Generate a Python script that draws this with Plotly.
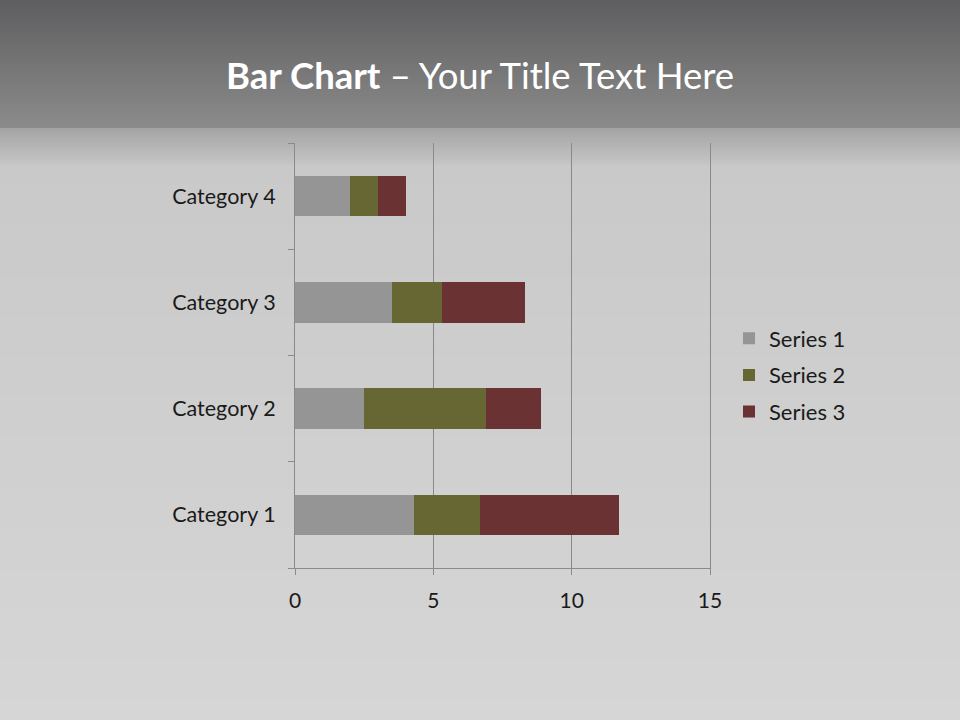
import plotly.graph_objects as go

categories = ["Category 1", "Category 2", "Category 3", "Category 4"]
series_names = ["Series 1", "Series 2", "Series 3"]
series1 = [4.3, 2.5, 3.5, 2.0]
series2 = [2.4, 4.4, 1.8, 1.0]
series3 = [5.0, 2.0, 3.0, 1.0]
colors = ["#959595", "#676734", "#6a3232"]
x_ticks = [0, 5, 10, 15]

FONT = "Lato"
W, H = 960, 720

fig = go.Figure()
for i, (name, vals) in enumerate(zip(series_names, [series1, series2, series3])):
    fig.add_trace(go.Bar(
        y=categories, x=vals, name=name, orientation="h",
        marker=dict(color=colors[i], line=dict(width=0)),
        width=0.38, legendgroup=name,
    ))

# background gradient shapes
shapes = []
def hexmix(c1, c2, t):
    a = [int(c1[i:i+2], 16) for i in (1, 3, 5)]
    b = [int(c2[i:i+2], 16) for i in (1, 3, 5)]
    return "#%02x%02x%02x" % tuple(round(a[k] + (b[k] - a[k]) * t) for k in range(3))

def band(y0px, y1px, c0, c1, n):
    for k in range(n):
        a = y0px + (y1px - y0px) * k / n
        b = y0px + (y1px - y0px) * (k + 1) / n
        shapes.append(dict(type="rect", xref="paper", yref="paper",
                           x0=0, x1=1, y0=1 - b / H, y1=1 - a / H,
                           fillcolor=hexmix(c0, c1, (k + 0.5) / n),
                           line=dict(width=0), layer="below"))

band(0, 128, "#5e5e60", "#8b8b8b", 64)
band(128, 165, "#a4a4a4", "#c6c6c6", 37)
band(165, 720, "#c9c9c9", "#d6d6d6", 55)

fig.update_layout(
    width=W, height=H, autosize=False,
    margin=dict(l=0, r=0, t=0, b=0, autoexpand=False),
    paper_bgcolor="#d0d0d0",
    plot_bgcolor="rgba(0,0,0,0)",
    barmode="stack",
    shapes=shapes,
    font=dict(family=FONT, color="#1a1a1a", size=21),
    showlegend=True,
    legend=dict(x=729 / W, y=1 - 375 / H, xanchor="left", yanchor="middle",
                bgcolor="rgba(0,0,0,0)", font=dict(size=22, family=FONT, color="#1a1a1a"),
                traceorder="grouped", tracegroupgap=5, itemwidth=30),
    xaxis=dict(domain=[295 / W, 710 / W], range=[0, 15], tickvals=x_ticks,
               automargin=False,
               showgrid=True, gridcolor="#8a8a8a", gridwidth=1,
               showline=True, linecolor="#8a8a8a", linewidth=1,
               ticks="outside", ticklen=6, tickcolor="#8a8a8a",
               zeroline=False, ticklabelstandoff=8,
               tickfont=dict(size=21, family=FONT, color="#1a1a1a")),
    yaxis=dict(domain=[1 - 568 / H, 1 - 143 / H], type="category",
               categoryorder="array", categoryarray=categories,
               automargin=False,
               showgrid=False, showline=True, linecolor="#8a8a8a", linewidth=1,
               mirror=True,
               ticks="outside", ticklen=6, tickcolor="#8a8a8a",
               tickson="boundaries", ticklabelstandoff=14,
               tickfont=dict(size=21.5, family=FONT, color="#1a1a1a")),
    annotations=[dict(text="<b>Bar Chart</b> – Your Title Text Here",
                      x=0.5, y=1 - 75 / H, xref="paper", yref="paper",
                      xanchor="center", yanchor="middle", showarrow=False,
                      font=dict(size=36.5, color="white", family=FONT))],
)

post = "document.body.style.margin='0';document.body.style.padding='0';"
fig.write_html("out.html", post_script=post,
               config={"displayModeBar": False})
